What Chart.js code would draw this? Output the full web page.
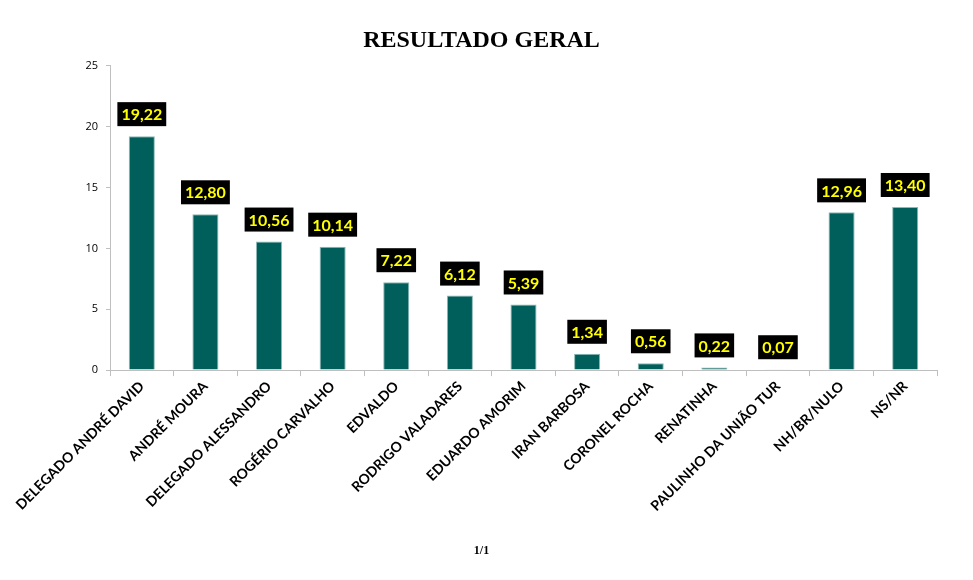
<!DOCTYPE html>
<html>
<head>
<meta charset="utf-8">
<script src="https://cdn.jsdelivr.net/npm/chart.js@4/dist/chart.umd.min.js"></script>
<style>
html,body{margin:0;padding:0;background:#fff;}
#wrap{width:973px;height:580px;}
</style>
</head>
<body>
<div id="wrap"><canvas id="c" width="973" height="580"></canvas></div>
<script>
const categories = ["DELEGADO ANDRÉ DAVID","ANDRÉ MOURA","DELEGADO ALESSANDRO","ROGÉRIO CARVALHO","EDVALDO","RODRIGO VALADARES","EDUARDO AMORIM","IRAN BARBOSA","CORONEL ROCHA","RENATINHA","PAULINHO DA UNIÃO TUR","NH/BR/NULO","NS/NR"];
const values = [19.22,12.80,10.56,10.14,7.22,6.12,5.39,1.34,0.56,0.22,0.07,12.96,13.40];
const yTicks = [0,5,10,15,20,25];

const fmt = v => v.toFixed(2).replace('.', ',');

const labelPlugin = {
  id: 'boxLabels',
  afterDatasetsDraw(chart) {
    const ctx = chart.ctx;
    const meta = chart.getDatasetMeta(0);
    ctx.save();
    ctx.font = 'bold 16px Lato';
    ctx.textAlign = 'center';
    ctx.textBaseline = 'middle';
    meta.data.forEach((bar, i) => {
      const txt = fmt(values[i]);
      const w = ctx.measureText(txt).width + 8;
      const h = 24;
      const bottom = bar.y - 10;
      ctx.fillStyle = '#000';
      ctx.fillRect(bar.x - w / 2, bottom - h, w, h);
      ctx.fillStyle = '#FFFF00';
      ctx.fillText(txt, bar.x, bottom - h / 2 + 1);
    });
    ctx.restore();
  }
};

new Chart(document.getElementById('c'), {
  type: 'bar',
  data: {
    labels: categories,
    datasets: [{
      data: values,
      backgroundColor: '#005F5B',
      borderColor: '#8CB8B5',
      borderWidth: 1,
      categoryPercentage: 1,
      barPercentage: 0.41
    }]
  },
  options: {
    responsive: false,
    animation: false,
    layout: { padding: { left: 26, right: 36, top: 0, bottom: 15 } },
    plugins: {
      legend: { display: false },
      tooltip: { enabled: false },
      title: {
        display: true,
        text: 'RESULTADO GERAL',
        color: '#000',
        font: { family: 'Liberation Serif', size: 24, weight: 'bold' },
        padding: { top: 26, bottom: 11 }
      },
      subtitle: {
        display: true,
        position: 'bottom',
        text: '1/1',
        color: '#000',
        font: { family: 'Liberation Serif', size: 12, weight: 'bold' },
        padding: { top: 27, bottom: 7 }
      }
    },
    scales: {
      x: {
        grid: { display: true, drawOnChartArea: false, drawTicks: true, tickLength: 6, color: '#BFBFBF', offset: true },
        border: { color: '#BFBFBF' },
        ticks: {
          autoSkip: false,
          maxRotation: 45,
          minRotation: 45,
          color: '#000',
          padding: 2,
          font: { family: 'Lato', size: 14, weight: 'bold' }
        }
      },
      y: {
        min: 0,
        max: 25,
        afterBuildTicks: axis => { axis.ticks = yTicks.map(v => ({ value: v })); },
        afterFit: axis => { axis.width = 84; },
        grid: { display: true, drawOnChartArea: false, drawTicks: true, tickLength: 4, color: '#BFBFBF' },
        border: { color: '#BFBFBF' },
        ticks: {
          color: '#000',
          padding: 8,
          font: { family: 'Open Sans', size: 11 }
        }
      }
    }
  },
  plugins: [labelPlugin]
});
</script>
</body>
</html>
